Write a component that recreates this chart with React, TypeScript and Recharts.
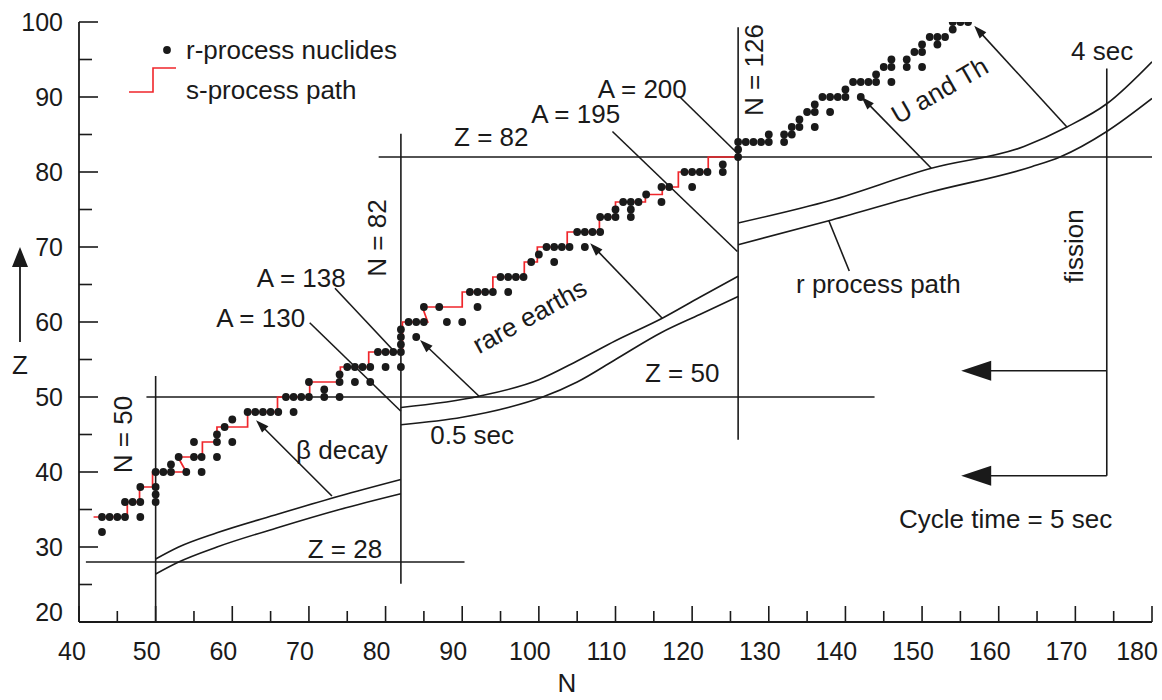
import React from 'react'
import {
  ComposedChart,
  XAxis,
  YAxis,
  Scatter,
  Line,
  ReferenceLine,
  ReferenceDot,
} from 'recharts'

const FONT = '"Liberation Sans", Arial, Helvetica, sans-serif'
const INK = '#1a1a1a'
const RED = '#f0262b'

type Pt = [number, number]

// r-process nuclides, [N, Z]
const rNuclidesLight: Pt[] = [
  [43, 32], [43, 34], [44, 34], [45, 34], [46, 34], [46, 36], [47, 36], [48, 36], [48, 38], [48, 34],
  [50, 40], [50, 38], [50, 37], [50, 36], [51, 40], [52, 40], [52, 41], [53, 42], [54, 40],
  [55, 44], [55, 42], [56, 42], [56, 40], [58, 45], [58, 44], [58, 42], [59, 46], [60, 47], [60, 44],
  [62, 48], [63, 48], [64, 48], [65, 48], [66, 48], [68, 48],
  [67, 50], [68, 50], [69, 50], [70, 50], [70, 52], [72, 51], [72, 50], [74, 50], [74, 53], [74, 52],
  [75, 54], [76, 54], [77, 54], [78, 54], [76, 52], [78, 52],
  [79, 56], [80, 56], [81, 56], [80, 54],
]

const rNuclidesRare: Pt[] = [
  [82, 54], [82, 56], [82, 57], [82, 58], [82, 59], [83, 60], [84, 60], [85, 60], [84, 58],
  [85, 62], [87, 62], [88, 60], [90, 60], [92, 62],
  [91, 64], [92, 64], [93, 64], [94, 64], [96, 64],
  [95, 66], [96, 66], [97, 66], [98, 66], [99, 68], [102, 68], [100, 69],
  [101, 70], [102, 70], [103, 70], [104, 70], [106, 70],
  [105, 72], [106, 72], [107, 72], [108, 72],
  [108, 74], [109, 74], [110, 74], [110, 75],
  [111, 76], [112, 76], [113, 76], [112, 75], [112, 74], [114, 77],
  [116, 78], [117, 78], [116, 76], [120, 78],
  [119, 80], [120, 80], [121, 80], [122, 80], [124, 81], [124, 80], [126, 82], [126, 83],
]

const rNuclidesHeavy: Pt[] = [
  [126, 84], [127, 84], [128, 84], [129, 84], [130, 84], [130, 85], [132, 85], [132, 84],
  [133, 86], [133, 85], [134, 87], [134, 86], [135, 88], [136, 89], [136, 88], [136, 86],
  [137, 90], [138, 90], [139, 90], [140, 90], [140, 91], [138, 88],
  [141, 92], [142, 92], [143, 92], [144, 92], [142, 90], [144, 93], [145, 94],
  [146, 95], [146, 94], [146, 92], [148, 95], [148, 94], [149, 96], [150, 96], [150, 97], [150, 94],
  [151, 98], [152, 98], [153, 98], [152, 97], [154, 99], [154, 100], [155, 100], [156, 100],
]

// s-process path (red staircase), [N, Z]
const sProcessPath: Pt[] = [
  [41.9, 34], [46.3, 34], [46.3, 36], [47.9, 36], [47.9, 38], [49.6, 38], [49.6, 40], [54, 40],
  [52.9, 42], [56.1, 42], [56.1, 44], [58, 44], [58, 46], [62, 46], [62, 48], [65.9, 48],
  [65.9, 50], [70.1, 50], [70.1, 52], [74.1, 52], [74.1, 54], [77.8, 54], [77.8, 56], [82.2, 56],
  [82.2, 60], [85.5, 60], [84.8, 62], [90, 62], [90, 64], [94, 64], [94, 66], [98.1, 66],
  [98.1, 68], [99.8, 68], [99.8, 70], [103.7, 70], [103.7, 72], [107.9, 72], [107.9, 74], [110, 74],
  [110, 76], [113.9, 76], [113.9, 77], [116.1, 77], [116.1, 78], [118.2, 78], [118.2, 80], [122.1, 80],
  [122.1, 82], [125.9, 82],
]

// r-process path band edges, [N, Z]
const rPathLowUpper: Pt[] = [[50, 28.4], [53, 30], [58, 31.9], [66, 34.4], [74, 36.8], [82, 39]]
const rPathLowLower: Pt[] = [[50, 26.4], [53, 28], [58, 30], [66, 32.6], [74, 35], [82, 37.1]]
const rPathMidUpper: Pt[] = [[82, 48.6], [92.2, 50.1], [100, 52.3], [105, 54.8], [110, 57.5], [116.1, 60.5], [121, 63.3], [126, 66.1]]
const rPathMidLower: Pt[] = [[82, 46.3], [90, 47.3], [96, 48.6], [100.5, 50], [105, 52], [110, 55], [116, 58.6], [121, 61], [126, 63.4]]
const rPathHighUpper: Pt[] = [[126, 73.2], [138, 76.2], [151.2, 80.5], [163.3, 83.4], [168.9, 86], [174.1, 89.1], [180, 94.7]]
const rPathHighLower: Pt[] = [[126, 70.3], [138.2, 73.6], [151, 77.3], [164.3, 80.7], [168, 82], [174.1, 85.4], [180, 89.8]]

const xTicks = [40, 45, 50, 55, 60, 65, 70, 75, 80, 85, 90, 95, 100, 105, 110, 115, 120, 125, 130, 135, 140, 145, 150, 155, 160, 165, 170, 175, 180]
const yTicks = [20, 25, 30, 35, 40, 45, 50, 55, 60, 65, 70, 75, 80, 85, 90, 95, 100]

// guide lines: magic numbers, leaders, fission
const guides: [Pt, Pt][] = [
  [[50, 20], [50, 52.8]],
  [[82, 25.1], [82, 85.1]],
  [[126, 44.3], [126, 99.3]],
  [[40.9, 28], [90.3, 28]],
  [[48.8, 50], [143.8, 50]],
  [[79.1, 82], [180, 82]],
  [[174.1, 39.5], [174.1, 93.8]],
  [[70.1, 59.9], [82, 48.1]],
  [[73.4, 64.5], [81.3, 55.9]],
  [[109.6, 85.4], [125.9, 69.4]],
  [[118.4, 90], [125.9, 82.5]],
  [[137.8, 73.6], [140.5, 66.8]],
]

// small arrows: tail on the path, head at the tip
const arrows: [Pt, Pt][] = [
  [[73, 36.8], [63.1, 46.9]],
  [[92.2, 50.1], [84.5, 57.6]],
  [[116.1, 60.5], [106.7, 70.5]],
  [[151.2, 80.5], [142.1, 90]],
  [[168.9, 86], [156.8, 99.5]],
]

// fission return arrows
const bigArrows: [Pt, Pt][] = [
  [[174.1, 53.5], [155.1, 53.5]],
  [[174.1, 39.5], [155.1, 39.5]],
]

const notes = [
  { text: 'A = 130', n: 63.7, z: 60.5, angle: 0 },
  { text: 'A = 138', n: 69, z: 65.9, angle: 0 },
  { text: '\u03b2 decay', n: 74.3, z: 43, angle: 0 },
  { text: '0.5 sec', n: 91.3, z: 44.9, angle: 0 },
  { text: 'Z = 28', n: 74.7, z: 29.8, angle: 0 },
  { text: 'N = 50', n: 45.7, z: 45, angle: -90 },
  { text: 'N = 82', n: 78.9, z: 71.2, angle: -90 },
  { text: 'Z = 82', n: 93.8, z: 84.7, angle: 0 },
  { text: 'A = 195', n: 104.8, z: 87.8, angle: 0 },
  { text: 'A = 200', n: 113.5, z: 91.1, angle: 0 },
  { text: 'N = 126', n: 128.1, z: 93.6, angle: -90 },
  { text: 'rare earths', n: 98.8, z: 60.8, angle: -29 },
  { text: 'Z = 50', n: 118.7, z: 53.2, angle: 0 },
  { text: 'U and Th', n: 152.3, z: 90.9, angle: -30 },
  { text: '4 sec', n: 173.5, z: 96.2, angle: 0 },
  { text: 'fission', n: 169.8, z: 70.1, angle: -90 },
  { text: 'r process path', n: 144.3, z: 65.1, angle: 0 },
  { text: 'Cycle time = 5 sec', n: 160.9, z: 33.7, angle: 0 },
]

const toRows = (pts: Pt[]) => pts.map(([n, z]) => ({ n, z }))

const XTick = (props: any) => {
  const { x, y, payload } = props
  const major = payload.value % 10 === 0
  const dx = payload.value === 180 ? -15 : payload.value === 40 ? -7 : -9
  return (
    <g>
      <line x1={x} y1={y} x2={x} y2={y - (major ? 16 : 11)} stroke={INK} strokeWidth={1.6} />
      {major && (
        <text x={x + dx} y={y + 38} textAnchor="middle" fontSize={25} fill={INK} fontFamily={FONT}>
          {payload.value}
        </text>
      )}
    </g>
  )
}

const YTick = (props: any) => {
  const { x, y, payload } = props
  const major = payload.value % 10 === 0
  const dy = payload.value === 20 ? -1 : 9
  return (
    <g>
      <line x1={x} y1={y} x2={x + (major ? 19 : 13)} y2={y} stroke={INK} strokeWidth={1.6} />
      {major && (
        <text x={x - 16} y={y + dy} textAnchor="end" fontSize={25} fill={INK} fontFamily={FONT}>
          {payload.value}
        </text>
      )}
    </g>
  )
}

const arrowShape = (head: number, half: number) => (p: any) => {
  const { x1, y1, x2, y2 } = p
  const dx = x2 - x1
  const dy = y2 - y1
  const len = Math.hypot(dx, dy) || 1
  const ux = dx / len
  const uy = dy / len
  const bx = x2 - ux * head
  const by = y2 - uy * head
  const pts = `${x2},${y2} ${bx - uy * half},${by + ux * half} ${bx + uy * half},${by - ux * half}`
  return (
    <g>
      <line x1={x1} y1={y1} x2={bx + ux} y2={by + uy} stroke={INK} strokeWidth={1.6} />
      <polygon points={pts} fill={INK} />
    </g>
  )
}

const noteShape = (text: string, angle: number) => (p: any) => (
  <text
    x={p.cx}
    y={p.cy}
    textAnchor="middle"
    dominantBaseline="central"
    fontSize={26}
    fill={INK}
    fontFamily={FONT}
    transform={angle ? `rotate(${angle} ${p.cx} ${p.cy})` : undefined}
  >
    {text}
  </text>
)

const dotShape = (p: any) => <circle cx={p.cx} cy={p.cy} r={3.9} fill={INK} />

const bands = [rPathLowUpper, rPathLowLower, rPathMidUpper, rPathMidLower, rPathHighUpper, rPathHighLower]

export default function App() {
  return (
    <div style={{ position: 'relative', width: 1162, height: 700, background: '#fff' }}>
      <style>{'body{margin:0}'}</style>
      <ComposedChart width={1162} height={700} margin={{ top: 22, right: 10, bottom: 0, left: 0 }}>
        <XAxis
          type="number"
          dataKey="n"
          domain={[40, 180]}
          ticks={xTicks}
          interval={0}
          allowDataOverflow
          height={78}
          tickSize={0}
          tickMargin={0}
          tickLine={false}
          tick={(p: any) => <XTick {...p} />}
          axisLine={{ stroke: INK, strokeWidth: 1.8 }}
        />
        <YAxis
          type="number"
          dataKey="z"
          domain={[20, 100]}
          ticks={yTicks}
          interval={0}
          allowDataOverflow
          width={79}
          tickSize={0}
          tickMargin={0}
          tickLine={false}
          tick={(p: any) => <YTick {...p} />}
          axisLine={{ stroke: INK, strokeWidth: 1.8 }}
        />

        {guides.map(([a, b], i) => (
          <ReferenceLine
            key={`g${i}`}
            segment={[{ x: a[0], y: a[1] }, { x: b[0], y: b[1] }]}
            stroke={INK}
            strokeWidth={1.6}
            ifOverflow="visible"
          />
        ))}
        {arrows.map(([a, b], i) => (
          <ReferenceLine
            key={`a${i}`}
            segment={[{ x: a[0], y: a[1] }, { x: b[0], y: b[1] }]}
            ifOverflow="visible"
            shape={arrowShape(13, 4.5)}
          />
        ))}
        {bigArrows.map(([a, b], i) => (
          <ReferenceLine
            key={`b${i}`}
            segment={[{ x: a[0], y: a[1] }, { x: b[0], y: b[1] }]}
            ifOverflow="visible"
            shape={arrowShape(30, 10)}
          />
        ))}

        {bands.map((band, i) => (
          <Line
            key={`r${i}`}
            data={toRows(band)}
            dataKey="z"
            type="monotone"
            stroke={INK}
            strokeWidth={1.6}
            dot={false}
            activeDot={false}
            isAnimationActive={false}
          />
        ))}

        <Line
          data={toRows(sProcessPath)}
          dataKey="z"
          type="linear"
          stroke={RED}
          strokeWidth={1.7}
          dot={false}
          activeDot={false}
          isAnimationActive={false}
        />
        <Scatter data={toRows(rNuclidesLight)} shape={dotShape} isAnimationActive={false} />
        <Scatter data={toRows(rNuclidesRare)} shape={dotShape} isAnimationActive={false} />
        <Scatter data={toRows(rNuclidesHeavy)} shape={dotShape} isAnimationActive={false} />

        {notes.map((t) => (
          <ReferenceDot
            key={t.text}
            x={t.n}
            y={t.z}
            r={0}
            ifOverflow="visible"
            shape={noteShape(t.text, t.angle)}
          />
        ))}
      </ComposedChart>

      <svg
        width={1162}
        height={700}
        style={{ position: 'absolute', left: 0, top: 0, pointerEvents: 'none' }}
        fontFamily={FONT}
      >
        <circle cx={167} cy={50} r={3.9} fill={INK} />
        <text x={186} y={59} fontSize={26} fill={INK}>r-process nuclides</text>
        <polyline points="129,92 153,92 153,68 176,68" fill="none" stroke={RED} strokeWidth={1.6} />
        <text x={186} y={99} fontSize={26} fill={INK}>s-process path</text>

        <line x1={20} y1={342} x2={20} y2={264} stroke={INK} strokeWidth={1.8} />
        <polygon points="20,247 12,267 28,267" fill={INK} />
        <text x={20} y={374} textAnchor="middle" fontSize={26} fill={INK}>Z</text>
        <text x={567} y={692} textAnchor="middle" fontSize={26} fill={INK}>N</text>
      </svg>
    </div>
  )
}
